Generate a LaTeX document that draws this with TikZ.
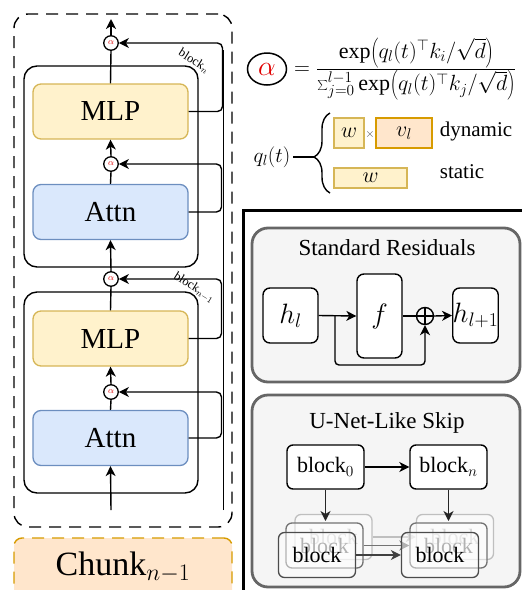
\RequirePackage{fix-cm}
\documentclass[tikz,border=0pt]{standalone}
\usepackage{fontspec}
\setmainfont{Liberation Serif}
\usetikzlibrary{arrows.meta,decorations.pathreplacing,calc,shapes.geometric}
\definecolor{mlpfill}{HTML}{FFF2CC}
\definecolor{mlpdraw}{HTML}{D6B656}
\definecolor{attnfill}{HTML}{DAE8FC}
\definecolor{attndraw}{HTML}{6C8EBF}
\definecolor{chunkfill}{HTML}{FFE6CC}
\definecolor{chunkdraw}{HTML}{D79B00}
\definecolor{panelfill}{HTML}{F5F5F5}
\definecolor{paneldraw}{HTML}{666666}
\definecolor{alphared}{HTML}{E00000}
\newcommand{\fs}[1]{\fontsize{#1}{#1}\selectfont}
\tikzset{
  box/.style={draw, rounded corners=#1, inner sep=0pt, align=center},
  box/.default=8pt,
  blockbox/.style={draw, line width=1.4pt, rounded corners=13pt, minimum width=174pt, minimum height=201pt, inner sep=0pt},
  mlp/.style={box, fill=mlpfill, draw=mlpdraw, line width=1.3pt, minimum width=155pt, minimum height=55pt, font=\fs{29}},
  attn/.style={box, fill=attnfill, draw=attndraw, line width=1.3pt, minimum width=155pt, minimum height=55pt, font=\fs{29}},
  alph/.style={circle, draw, fill=white, line width=1.3pt, minimum size=14.5pt, inner sep=0pt, font=\fs{9}, text=alphared},
  panel/.style={draw=paneldraw, fill=panelfill, line width=2.8pt, rounded corners=16pt, inner sep=0pt},
  wbox/.style={box=7pt, fill=white, line width=1.4pt, font=\fs{28}},
  ubox/.style={box=6pt, fill=white, line width=1.4pt, minimum width=77pt, minimum height=44pt, font=\fs{22}},
  sbox/.style={box=6pt, fill=white, fill opacity=0.45, text opacity=1, line width=1.3pt, minimum width=77pt, minimum height=45pt, font=\fs{22}},
  wcell/.style={draw=mlpdraw, fill=mlpfill, line width=1.3pt, inner sep=0pt, font=\fs{22}},
  vcell/.style={draw=chunkdraw, fill=chunkfill, line width=1.8pt, inner sep=0pt, font=\fs{22}},
  conn/.style={line width=1.4pt},
  arr/.style={conn, -{Stealth[length=10pt,width=10pt,inset=3pt]}},
  lbl/.style={font=\fs{12.5}, rotate=-32, inner sep=0pt},
}
\begin{document}
\begin{tikzpicture}[x=1pt,y=-1pt]
\useasboundingbox (0,0) rectangle (524,590);
\clip (0,0) rectangle (524,590);

% ---------------- left column ----------------
\node[draw, dashed, dash pattern=on 12pt off 8pt, line width=1.4pt, rounded corners=14pt,
      minimum width=218pt, minimum height=513pt, inner sep=0pt] (outer) at (123,270.5) {};
\node[draw=chunkdraw, fill=chunkfill, dashed, dash pattern=on 12pt off 8pt, line width=1.4pt,
      rounded corners=8pt, minimum width=218pt, minimum height=64pt, inner sep=0pt,
      text depth=0pt, font=\fs{34}] (chunk) at (123,570) {\raisebox{12pt}{Chunk$_{n-1}$}};

\node[blockbox] (blk1) at (111,166.5) {};
\node[blockbox] (blk0) at (111,392.5) {};

\node[mlp]  (mlp1)  at (110.5,111.5) {MLP};
\node[attn] (attn1) at (110.5,212)   {Attn};
\node[mlp]  (mlp0)  at (110.5,338.5) {MLP};
\node[attn] (attn0) at (110.5,438)   {Attn};

\node[alph] (a3) at (111,43)  {$\alpha$};
\node[alph] (a2) at (111,164) {$\alpha$};
\node[alph] (a1) at (111,279) {$\alpha$};
\node[alph] (a0) at (111,392) {$\alpha$};

\coordinate (in)   at (111,510);
\coordinate (out)  at (111,19);
\coordinate (busb) at (223.5,510);
\coordinate (bust) at (223.5,50);

% main flow
\draw[arr]  (in) -- (attn0.south);
\draw[conn] (attn0.north) -- (a0.south);
\draw[arr]  (a0.north) -- (mlp0.south);
\draw[conn] (mlp0.north) -- (a1.south);
\draw[arr]  (a1.north) -- (attn1.south);
\draw[conn] (attn1.north) -- (a2.south);
\draw[arr]  (a2.north) -- (mlp1.south);
\draw[conn] (mlp1.north) -- (a3.south);
\draw[arr]  (a3.north) -- (out);

% skip connections
\draw[conn] (busb) -- (bust);
\draw[arr, rounded corners=5pt] (attn0.east) -- (221.5,438) |- (a0.east);
\draw[arr, rounded corners=5pt] (mlp0.east)  -- (221.5,338.5) |- (a1.east);
\draw[arr, rounded corners=5pt] (attn1.east) -- (221.5,212) |- (a2.east);
\draw[arr, rounded corners=5pt] (mlp1.east)  -- (222.5,111.5) |- (a3.east);

\node[lbl] (ln)  at (194,61)  {block$_n$};
\node[lbl] (ln1) at (194,288) {block$_{n-1}$};

% ---------------- formula ----------------
\node[draw, ellipse, line width=1.5pt, minimum width=39pt, minimum height=32pt, inner sep=0pt,
      font=\fs{28}, text=alphared] (abig) at (267,69) {$\alpha$};
\node[inner sep=0pt, font=\fs{22}, anchor=west] (eq) at (294,69)
  {$=\displaystyle\frac{\exp\!\left(q_l(t)^{\top}k_i/\sqrt{d}\right)}{\sum_{j=0}^{l-1}\exp\!\left(q_l(t)^{\top}k_j/\sqrt{d}\right)}$};

\node[inner sep=0pt, font=\fs{21}] (q) at (272,157) {$q_l(t)$};
\draw[conn, decorate, decoration={brace, amplitude=16pt, aspect=0.45}] (330,193) -- (330,113);
\draw[conn] (q.east) ++(3,0) -- (314,157);

\node[wcell, minimum width=30pt, minimum height=30pt] (w1) at (349,133) {$w$};
\node[inner sep=0pt, font=\fs{12}, text=black!70] (times) at (370,134) {$\times$};
\node[vcell, minimum width=56pt, minimum height=30pt] (vl) at (404,133) {$v_l$};
\node[inner sep=0pt, font=\fs{21}] (dyn) at (476,131) {dynamic};
\node[wcell, minimum width=73pt, minimum height=20pt] (w2) at (370.5,178) {$w$};
\node[inner sep=0pt, font=\fs{21}] (stat) at (462,172) {static};

% ---------------- separator ----------------
\draw[line width=3.5pt] (243.5,592) -- (243.5,210.5) -- (522,210.5);

% ---------------- standard residuals ----------------
\node[panel, minimum width=268pt, minimum height=154pt] (p1) at (386,305) {};
\node[inner sep=0pt, font=\fs{23}] (t1) at (387,248) {Standard Residuals};
\node[wbox, minimum width=55pt, minimum height=55pt] (hl) at (290.5,315.5) {$h_l$};
\node[wbox, minimum width=45pt, minimum height=84pt] (f) at (379.5,316) {$f$};
\node[circle, draw, line width=1.4pt, minimum size=17pt, inner sep=0pt] (plus) at (425,316) {};
\draw[conn] (plus.north) -- (plus.south);
\draw[conn] (plus.west) -- (plus.east);
\node[wbox, minimum width=45pt, minimum height=55pt] (hl1) at (475.5,315.5) {$h_{l+1}$};
\coordinate (br) at (335,316);
\draw[arr] (hl.east) -- (f.west);
\draw[arr, rounded corners=4pt] (br) -- (335,365) -| (plus.south);
\draw[conn] (f.east) -- (plus.west);
\draw[arr] (plus.east) -- (hl1.west);

% ---------------- U-Net-like skip ----------------
\node[panel, minimum width=268pt, minimum height=192pt] (p2) at (386,491) {};
\node[inner sep=0pt, font=\fs{23}] (t2) at (387,423) {U-Net-Like Skip};
\node[ubox] (b0) at (325.5,467) {block$_0$};
\node[ubox] (bn) at (448.5,467) {block$_n$};
\draw[arr] (b0.east) -- (bn.west);
\coordinate (d0) at (325.5,521);
\coordinate (dn) at (448.5,521);

% back layer
\node[sbox, draw=black!25, text=black!30] (L3) at (333.5,537) {block};
\node[sbox, draw=black!25, text=black!30] (R3) at (455,537) {block};
\draw[arr, draw=black!25, fill=black!25] (L3.east) -- (R3.west);
% middle layer
\node[sbox, draw=black!55, text=black!55] (L2) at (324.5,545.5) {block};
\node[sbox, draw=black!55, text=black!55] (R2) at (448.5,545.5) {block};
\draw[arr, draw=black!55, fill=black!55] (L2.east) -- (R2.west);
% front layer
\node[sbox, draw=black!70, text=black] (L1) at (317,555) {block};
\node[sbox, draw=black!70, text=black] (R1) at (440,555) {block};
\draw[arr, draw=black!75, fill=black!75] (L1.east) -- (R1.west);

\draw[arr, draw=black!85] (b0.south) -- (d0);
\draw[arr, draw=black!85] (bn.south) -- (dn);
\end{tikzpicture}
\end{document}
